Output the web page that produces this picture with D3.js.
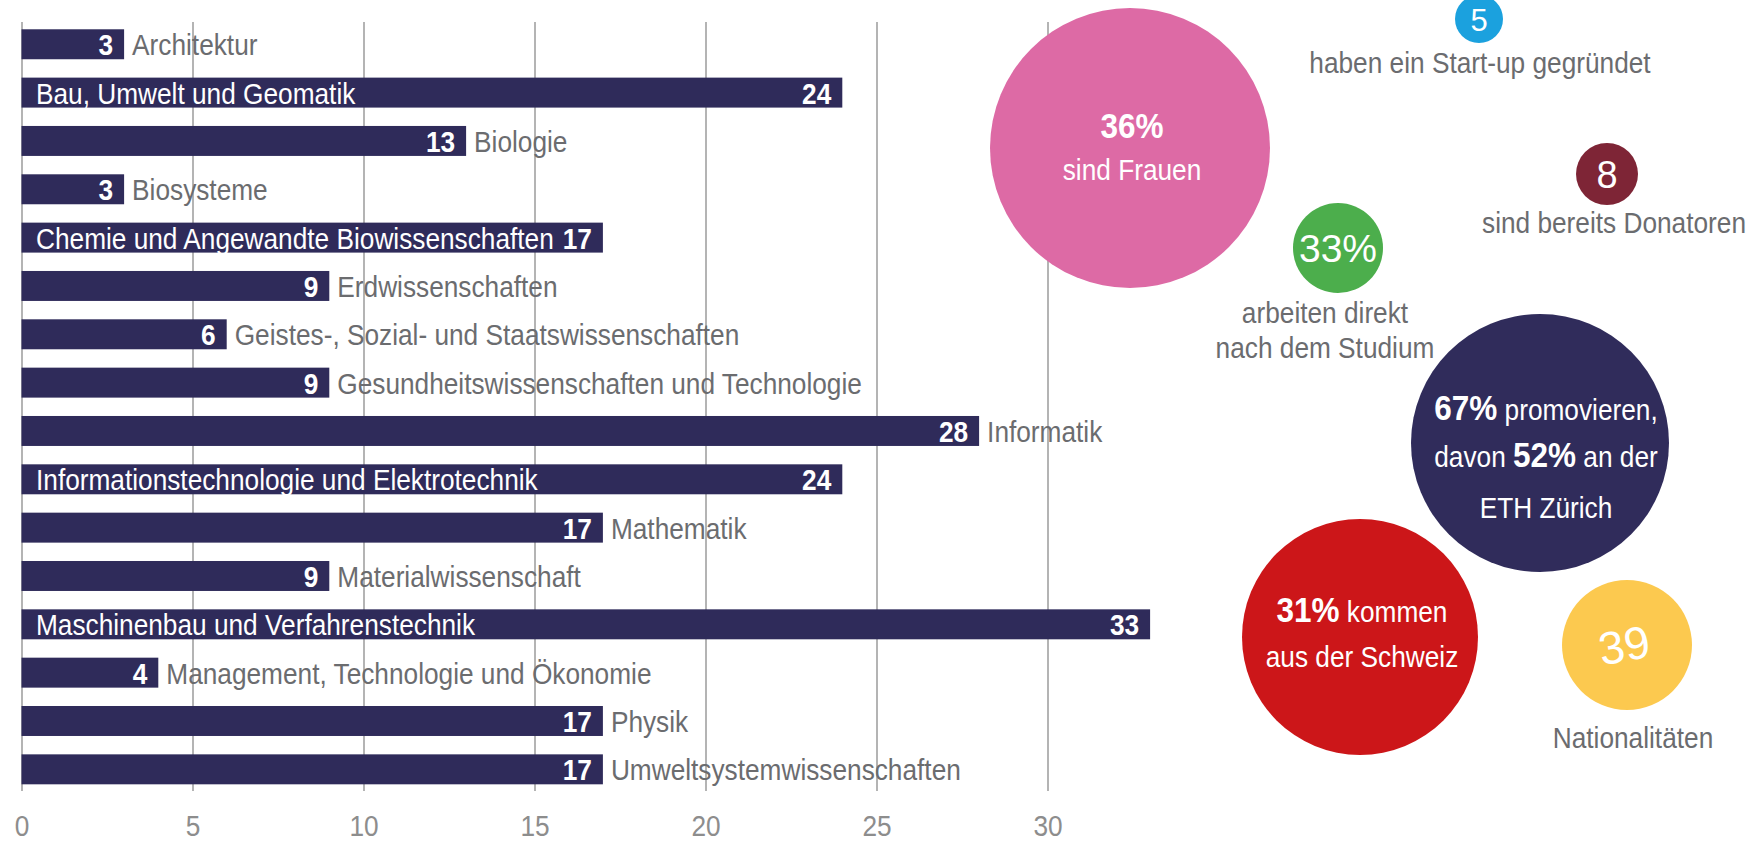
<!DOCTYPE html>
<html><head><meta charset="utf-8">
<script src="https://cdn.jsdelivr.net/npm/d3@7"></script>
<style>
html,body{margin:0;padding:0;background:#fff;}
svg{display:block;}
text{font-family:"Liberation Sans",Arial,Helvetica,sans-serif;}
</style></head><body><svg id="chart" width="1760" height="845"></svg>
<script>
// ---- data ----
const categories = [
  "Architektur",
  "Bau, Umwelt und Geomatik",
  "Biologie",
  "Biosysteme",
  "Chemie und Angewandte Biowissenschaften",
  "Erdwissenschaften",
  "Geistes-, Sozial- und Staatswissenschaften",
  "Gesundheitswissenschaften und Technologie",
  "Informatik",
  "Informationstechnologie und Elektrotechnik",
  "Mathematik",
  "Materialwissenschaft",
  "Maschinenbau und Verfahrenstechnik",
  "Management, Technologie und Ökonomie",
  "Physik",
  "Umweltsystemwissenschaften"
];
const values = [3, 24, 13, 3, 17, 9, 6, 9, 28, 24, 17, 9, 33, 4, 17, 17];
const namesInsideBar = [
  "Bau, Umwelt und Geomatik",
  "Chemie und Angewandte Biowissenschaften",
  "Informationstechnologie und Elektrotechnik",
  "Maschinenbau und Verfahrenstechnik"
];
const tickValues = [0, 5, 10, 15, 20, 25, 30];

// key figures (bubbles)
const statIds = ["frauen", "startup", "donatoren", "arbeiten", "promovieren", "schweiz", "nationalitaeten"];
const statFigures = ["36%", "5", "8", "33%", "67%", "31%", "39"];
const statTexts = [
  [[["36%", true]], [["sind Frauen", false]]],
  [[["haben ein Start-up gegründet", false]]],
  [[["sind bereits Donatoren", false]]],
  [[["arbeiten direkt", false]], [["nach dem Studium", false]]],
  [[["67%", true], [" promovieren,", false]], [["davon ", false], ["52%", true], [" an der", false]], [["ETH Zürich", false]]],
  [[["31%", true], [" kommen", false]], [["aus der Schweiz", false]]],
  [[["Nationalitäten", false]]]
];

// ---- layout / style ----
const W = 1760, H = 845;
const barColor = "#2f2b5a";
const grey = "#6b6c6f";
const SX = 0.875; // horizontal compression to emulate a condensed face
const svg = d3.select("#chart");
svg.append("rect").attr("width", W).attr("height", H).attr("fill", "#fff");

const x = d3.scaleLinear().domain([0, 30]).range([21.5, 1047.5]);
const y = d3.scaleBand().domain(categories).range([20.1, 793.5]).paddingInner(0.38).paddingOuter(0.19);

const gridTop = 22, gridBottom = 791;
const axis = d3.axisBottom(x).tickValues(tickValues).tickSize(-(gridBottom - gridTop)).tickPadding(0).tickFormat(d3.format("d"));
const gAxis = svg.append("g").attr("transform", `translate(0,${gridBottom})`).call(axis);
gAxis.select(".domain").remove();
gAxis.selectAll(".tick line").attr("stroke", "#8c8c8c").attr("stroke-width", 1.3);
gAxis.selectAll(".tick text")
  .attr("y", 0).attr("dy", 0)
  .attr("transform", `translate(0,${836 - gridBottom}) scale(${SX},1)`)
  .attr("fill", "#8d8d8d").attr("font-size", 30)
  .style("font-family", '"Liberation Sans",Arial,sans-serif');

const rows = categories.map((c, i) => ({ name: c, value: values[i], inside: namesInsideBar.includes(c) }));

const gBars = svg.append("g");
gBars.selectAll("rect").data(rows).join("rect")
  .attr("x", x(0)).attr("y", d => y(d.name))
  .attr("width", d => x(d.value) - x(0)).attr("height", y.bandwidth())
  .attr("fill", barColor);

const fs = 30;
const baseY = d => y(d.name) + y.bandwidth() / 2 + 11;
gBars.selectAll("text.val").data(rows).join("text").attr("class", "val")
  .attr("transform", d => `translate(${x(d.value) - 11},${baseY(d)}) scale(${SX},1)`)
  .attr("text-anchor", "end").attr("font-weight", "bold").attr("font-size", fs)
  .attr("fill", "#fff").text(d => d.value);
gBars.selectAll("text.name").data(rows).join("text").attr("class", "name")
  .attr("transform", d => `translate(${d.inside ? x(0) + 14.5 : x(d.value) + 8},${baseY(d)}) scale(${SX},1)`)
  .attr("font-size", fs)
  .attr("fill", d => d.inside ? "#fff" : grey).text(d => d.name);

// ---- bubbles ----
const bubbleLayout = {
  frauen:          { cx: 1130, cy: 148, r: 140, color: "#dd6aa5", fig: false, lines: [138, 180], tx: 1132, inside: true },
  startup:         { cx: 1479, cy: 19,  r: 24,  color: "#1ba1de", fig: true, figSize: 31, figDy: 12, lines: [73], tx: 1480 },
  donatoren:       { cx: 1607, cy: 174, r: 31,  color: "#7e2536", fig: true, figSize: 38, figDy: 14, lines: [233], tx: 1614 },
  arbeiten:        { cx: 1338, cy: 248, r: 45,  color: "#4cae4c", fig: true, figSize: 39, figDy: 14, lines: [323, 358], tx: 1325 },
  promovieren:     { cx: 1540, cy: 443, r: 129, color: "#302c5b", fig: false, lines: [420, 467, 518], tx: 1546, inside: true },
  schweiz:         { cx: 1360, cy: 637, r: 118, color: "#cc1619", fig: false, lines: [622, 667], tx: 1362, inside: true },
  nationalitaeten: { cx: 1627, cy: 645, r: 65,  color: "#fcc94f", fig: true, figSize: 46, figDy: 16, rot: -10, lines: [748], tx: 1633 }
};
const stats = statIds.map((id, i) => Object.assign({ id, figure: statFigures[i], text: statTexts[i] }, bubbleLayout[id]));

const gB = svg.append("g");
gB.selectAll("circle").data(stats).join("circle")
  .attr("cx", d => d.cx).attr("cy", d => d.cy).attr("r", d => d.r).attr("fill", d => d.color);

// numeric figures in small bubbles
gB.selectAll("text.fig").data(stats.filter(d => d.fig)).join("text").attr("class", "fig")
  .attr("transform", d => `translate(${d.cx},${d.cy + d.figDy}) rotate(${d.rot || 0})`)
  .attr("text-anchor", "middle").attr("fill", "#fff")
  .attr("font-size", d => d.figSize)
  .text(d => d.figure);

// caption text
stats.forEach(d => {
  d.text.forEach((line, li) => {
    const t = gB.append("text")
      .attr("transform", `translate(${d.tx},${d.lines[li]}) scale(${SX},1)`)
      .attr("text-anchor", "middle")
      .attr("fill", d.inside ? "#fff" : grey)
      .attr("font-size", 30);
    line.forEach(([s, bold]) => {
      t.append("tspan").attr("font-weight", bold ? "bold" : "normal")
        .attr("font-size", bold ? 36 : 30).text(s);
    });
  });
});
</script></body></html>
